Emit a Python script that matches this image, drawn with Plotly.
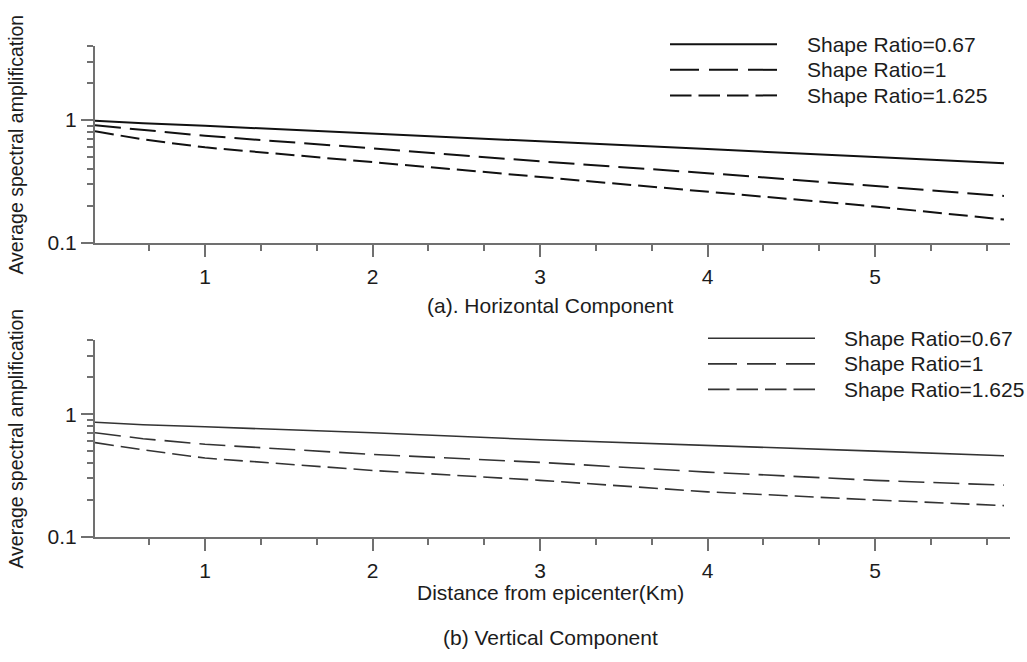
import plotly.graph_objects as go

# Distance from epicenter (km)
distance_km = [0.343, 0.63, 1.0, 2.0, 3.0, 4.0, 5.0, 5.77]

# Average spectral amplification, horizontal component
horiz_sr_067 = [0.987, 0.941, 0.899, 0.780, 0.676, 0.581, 0.500, 0.445]
horiz_sr_1 = [0.907, 0.837, 0.745, 0.589, 0.461, 0.370, 0.290, 0.241]
horiz_sr_1625 = [0.812, 0.696, 0.600, 0.455, 0.344, 0.260, 0.198, 0.155]

# Average spectral amplification, vertical component
vert_sr_067 = [0.858, 0.820, 0.790, 0.705, 0.618, 0.558, 0.500, 0.459]
vert_sr_1 = [0.705, 0.631, 0.568, 0.470, 0.405, 0.337, 0.289, 0.264]
vert_sr_1625 = [0.586, 0.512, 0.439, 0.348, 0.289, 0.233, 0.200, 0.180]

series_names = ["Shape Ratio=0.67", "Shape Ratio=1", "Shape Ratio=1.625"]
y_major_vals = [0.1, 1]
y_major_text = ["0.1", "1"]
y_minor_vals = [0.2, 0.3, 0.4, 0.5, 0.6, 0.7, 0.8, 0.9, 2, 3, 4]

W, H = 1027, 662
FONT = "Arial, Liberation Sans, sans-serif"
TXT = "#1c1c1c"
AXC = "#707070"

dashes = ["solid", "26px,9px", "19px,7px"]
key_dashes = ["solid", "29px,10px", "21.5px,7px"]

fig = go.Figure()

panels = [
    ("x", "y", [horiz_sr_067, horiz_sr_1, horiz_sr_1625], "#111111", 2.0),
    ("x2", "y2", [vert_sr_067, vert_sr_1, vert_sr_1625], "#333333", 1.6),
]
for xa, ya, series, col, lw in panels:
    for name, vals, dash in zip(series_names, series, dashes):
        fig.add_trace(go.Scatter(
            x=distance_km, y=vals, mode="lines", name=name,
            xaxis=xa, yaxis=ya, showlegend=False,
            line=dict(color=col, width=lw, dash=dash),
        ))

x_dom = [95 / W, 1010 / W]
top_dom = [1 - 247 / H, 1 - 47 / H]
bot_dom = [1 - 546 / H, 1 - 346 / H]

def xaxis_cfg(anchor, domain):
    return dict(
        domain=domain, anchor=anchor, range=[0.343, 5.806],
        showline=True, linecolor=AXC, linewidth=2,
        showgrid=False, zeroline=False,
        ticks="outside", ticklen=12, tickwidth=2, tickcolor=AXC,
        tickmode="linear", tick0=0, dtick=1,
        minor=dict(ticks="outside", ticklen=6, tickwidth=2, tickcolor=AXC,
                   tickmode="linear", tick0=0, dtick=1 / 3, showgrid=False),
        tickfont=dict(family=FONT, size=21, color=TXT),
        ticklabelstandoff=2,
    )

def yaxis_cfg(anchor, domain):
    return dict(
        domain=domain, anchor=anchor, type="log", range=[-1, 0.602],
        showline=True, linecolor=AXC, linewidth=2,
        showgrid=False, zeroline=False,
        ticks="outside", ticklen=12, tickwidth=2, tickcolor=AXC,
        tickmode="array", tickvals=y_major_vals, ticktext=y_major_text,
        minor=dict(ticks="outside", ticklen=6, tickwidth=2, tickcolor=AXC,
                   tickmode="array", tickvals=y_minor_vals, showgrid=False),
        tickfont=dict(family=FONT, size=21, color=TXT),
    )

fig.update_layout(
    width=W, height=H,
    margin=dict(l=0, r=0, t=0, b=0),
    paper_bgcolor="white", plot_bgcolor="white",
    showlegend=False,
    xaxis=xaxis_cfg("y", x_dom),
    yaxis=yaxis_cfg("x", top_dom),
    xaxis2=xaxis_cfg("y2", x_dom),
    yaxis2=yaxis_cfg("x2", bot_dom),
)

def px_x(v):
    return v / W

def px_y(v):
    return 1 - v / H

annotations = []
shapes = []

# Key entries for each panel: line sample + label
legend_specs = [
    (670, 777, 805, [45, 71, 97], "#111111", 2.0),
    (708, 815, 842, [344, 370, 396], "#333333", 1.6),
]
for x0, x1, xt, rows, col, lw in legend_specs:
    for name, dash, yy in zip(series_names, key_dashes, rows):
        shapes.append(dict(
            type="line", xref="paper", yref="paper",
            x0=px_x(x0), x1=px_x(x1), y0=px_y(yy), y1=px_y(yy),
            line=dict(color=col, width=lw, dash=dash),
        ))
        annotations.append(dict(
            text=name, xref="paper", yref="paper",
            x=px_x(xt), y=px_y(yy), xanchor="left", yanchor="middle",
            showarrow=False, font=dict(family=FONT, size=21, color=TXT),
        ))

# Y-axis titles
for yc in [147, 446]:
    annotations.append(dict(
        text="Average spectral amplification", xref="paper", yref="paper",
        x=px_x(16), y=px_y(yc), xanchor="center", yanchor="middle",
        textangle=-90, showarrow=False,
        font=dict(family=FONT, size=19.5, color=TXT),
    ))

for txt, yc in [("(a). Horizontal Component", 311),
                ("Distance from epicenter(Km)", 603),
                ("(b) Vertical Component", 648)]:
    annotations.append(dict(
        text=txt, xref="paper", yref="paper",
        x=px_x(550), y=px_y(yc), xanchor="center", yanchor="middle",
        showarrow=False, font=dict(family=FONT, size=21, color=TXT),
    ))

fig.update_layout(annotations=annotations, shapes=shapes)

fig.write_html("out.html")
